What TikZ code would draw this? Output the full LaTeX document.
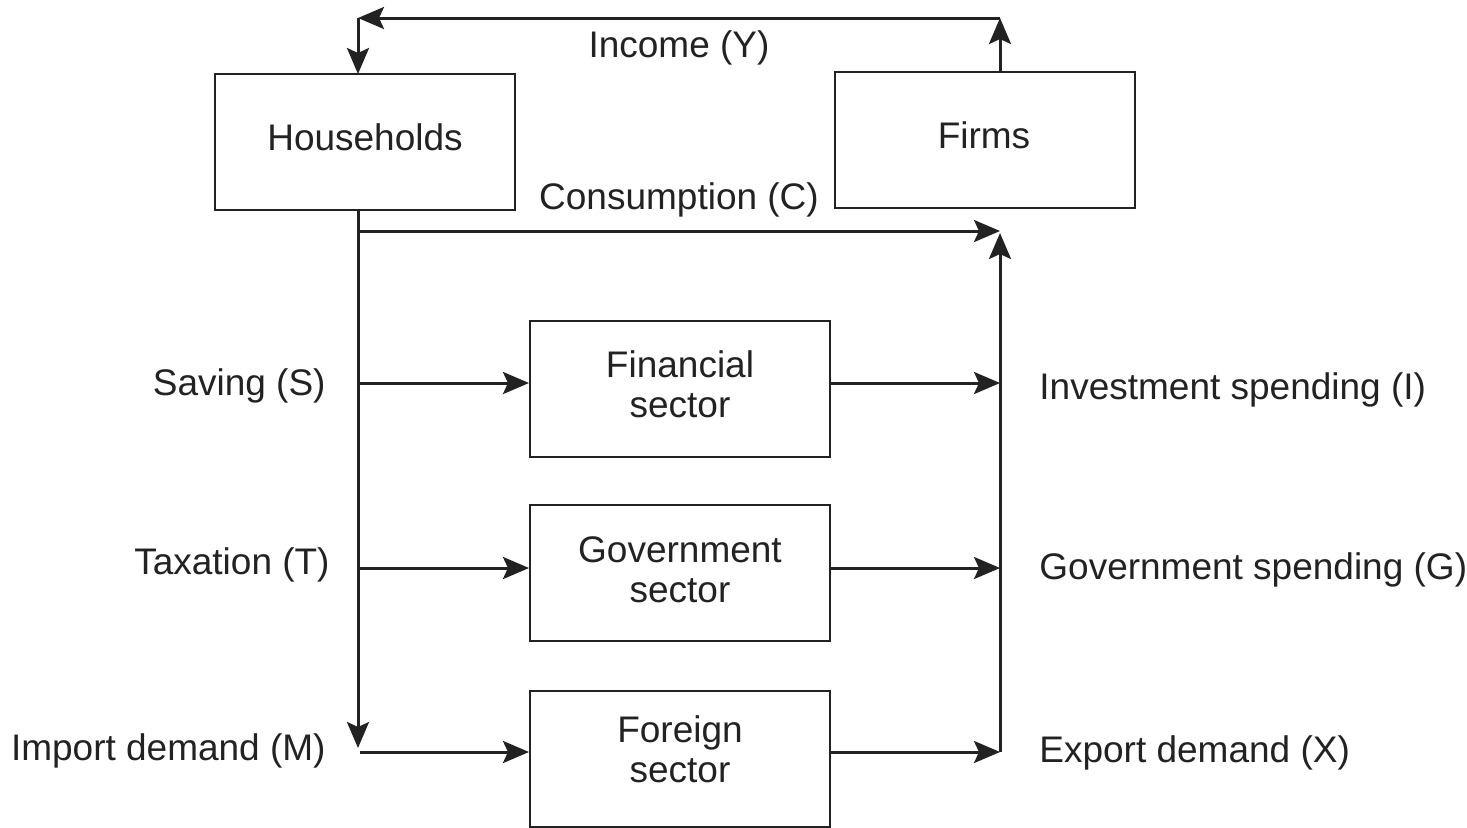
\documentclass[tikz,border=0pt]{standalone}
\usepackage{fontspec}
\setmainfont{Liberation Sans}
\usetikzlibrary{arrows.meta}
\definecolor{ink}{HTML}{222222}
\tikzset{
  box/.style={draw=ink, line width=1pt, minimum width=150pt, minimum height=68pt, inner sep=0pt},
  flow/.style={draw=ink, line width=1.5pt, -{Stealth[length=13pt,width=11pt,inset=2.5pt]}},
  lab/.style={text=ink, font=\fontsize{18.5}{20}\selectfont, inner sep=0pt, align=center}
}
\begin{document}
\begin{tikzpicture}[x=0.5pt,y=-0.5pt]
\useasboundingbox (0,0) rectangle (1467,827);
\node[box] (hh) at (365,142) {};
\node[box] (firms) at (985,140) {};
\node[box] (fin) at (680,388.5) {};
\node[box] (gov) at (680,572.5) {};
\node[box] (for) at (680,758.5) {};
\node[lab] (hht) at (365,137) {Households};
\node[lab] (firmst) at (984,135) {Firms};
\node[lab] (fint) at (680,384.5) {Financial\\sector};
\node[lab] (govt) at (680,569.5) {Government\\sector};
\node[lab] (fort) at (680,749) {Foreign\\sector};

\coordinate (hb) at (358,210);
\coordinate (ht) at (358,74);
\coordinate (ft) at (1000,72);
\coordinate (fb) at (1000,233);
\coordinate (tl) at (358,18);
\coordinate (tr) at (1000,18);
\coordinate (cl) at (358,231);
\coordinate (cr) at (1000,231);
\coordinate (ld) at (358,748);
\coordinate (sl) at (358,383);
\coordinate (tl2) at (358,568);
\coordinate (ml) at (360,752);
\coordinate (sr) at (1000,383);
\coordinate (gr) at (1000,568);
\coordinate (xr) at (1000,752);

% income loop
\draw[flow] (ft) -- (tr);
\draw[flow] (tr) -- (tl);
\draw[flow] (tl) -- (ht);
% consumption
\draw[flow] (cl) -- (cr);
% left trunk
\draw[flow] (hb) -- (ld);
% right trunk
\draw[flow] (xr) -- (fb);
% injections/leakages
\draw[flow] (sl) -- (fin.west |- sl);
\draw[flow] (tl2) -- (gov.west |- tl2);
\draw[flow] (ml) -- (for.west |- ml);
\draw[flow] (fin.east |- sr) -- (sr);
\draw[flow] (gov.east |- gr) -- (gr);
\draw[flow] (for.east |- xr) -- (xr);

\node[lab] (inc) at (679,48) {Income (Y)};
\node[lab] (con) at (679,200) {Consumption (C)};
\node[lab, anchor=east] (sav) at (326,386) {Saving (S)};
\node[lab, anchor=east] (tax) at (330,565) {Taxation (T)};
\node[lab, anchor=east] (imp) at (326,751) {Import demand (M)};
\node[lab, anchor=west] (inv) at (1039,390) {Investment spending (I)};
\node[lab, anchor=west] (gsp) at (1039,570) {Government spending (G)};
\node[lab, anchor=west] (exp) at (1039,753) {Export demand (X)};
\end{tikzpicture}
\end{document}
